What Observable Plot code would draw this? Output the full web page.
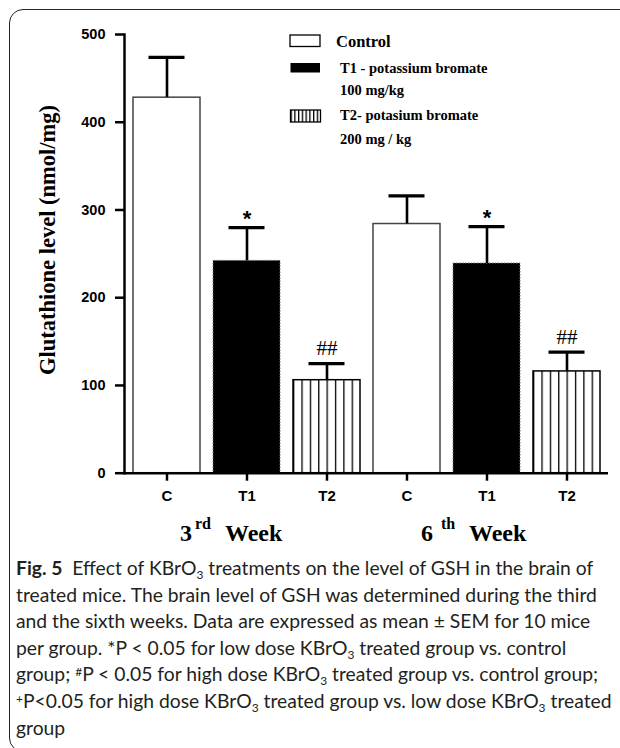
<!DOCTYPE html>
<html>
<head>
<meta charset="utf-8">
<script src="https://cdn.jsdelivr.net/npm/d3@7"></script>
<script src="https://cdn.jsdelivr.net/npm/@observablehq/plot@0.6"></script>
<style>
  html, body { margin: 0; padding: 0; background: #fff; }
  #wrap { position: relative; width: 620px; height: 748px; overflow: hidden; background: #fff; }
  #frame { position: absolute; left: 9px; top: 9px; width: 660px; height: 741px; border: 1.3px solid #222; border-radius: 14px; }
  #chart { position: absolute; left: 0; top: 0; }
  #overlay { position: absolute; left: 0; top: 0; }
  #caption { position: absolute; left: 16px; top: 555px; color: #231f20; font-family: Lato, "Open Sans", sans-serif; font-size: 18px; line-height: 26.6px; white-space: nowrap; }
  #caption b { font-weight: 700; }
  #caption sub { font-size: 0.62em; vertical-align: -0.3em; line-height: 0; }
  #caption sup { font-size: 0.62em; vertical-align: 0.45em; line-height: 0; }
  #caption span.line { display: inline-block; }
</style>
</head>
<body>
<svg width="0" height="0" style="position:absolute">
  <defs>
    <pattern id="stripes" patternUnits="objectBoundingBox" width="0.125" height="1">
      <rect x="0" y="0" width="1.3" height="800" fill="#000"></rect>
    </pattern>
  </defs>
</svg>
<div id="wrap">
  <div id="frame"></div>
  <div id="chart"></div>
  <svg id="overlay" width="620" height="748"></svg>
  <div id="caption"></div>
</div>
<script>
// ---- data ----
const weeks = ["3rd", "3rd", "3rd", "6th", "6th", "6th"];
const groups = ["C", "T1", "T2", "C", "T1", "T2"];
const means = [428, 242, 106, 284, 239, 116];
const sems = [46, 38, 19, 32, 42, 22];
const signif = ["", "*", "##", "", "*", "##"];
const yTicks = [0, 100, 200, 300, 400, 500];
const legendItems = [
  ["Control"],
  ["T1 - potassium bromate", "100 mg/kg"],
  ["T2- potasium bromate", "200 mg / kg"]
];
const weekLabels = [["3", "rd", "Week"], ["6", "th", "Week"]];
const yTitle = "Glutathione level (nmol/mg)";
const captionLines = [
  "<b>Fig. 5</b>&nbsp; Effect of KBrO<sub>3</sub> treatments on the level of GSH in the brain of",
  "treated mice. The brain level of GSH was determined during the third",
  "and the sixth weeks. Data are expressed as mean \u00b1 SEM for 10 mice",
  "per group. *P &lt; 0.05 for low dose KBrO<sub>3</sub> treated group vs. control",
  "group; <sup>#</sup>P &lt; 0.05 for high dose KBrO<sub>3</sub> treated group vs. control group;",
  "<sup>+</sup>P&lt;0.05 for high dose KBrO<sub>3</sub> treated group vs. low dose KBrO<sub>3</sub> treated",
  "group"
];

const data = groups.map((g, i) => ({
  key: weeks[i] + "-" + g,
  group: g,
  mean: means[i],
  top: means[i] + sems[i],
  mark: signif[i]
}));

const sans = "'Liberation Sans', Arial, sans-serif";
const serif = "'Liberation Serif', 'Times New Roman', serif";

const chart = Plot.plot({
  width: 620,
  height: 548,
  marginLeft: 124,
  marginRight: 12,
  marginTop: 34,
  marginBottom: 75.3,
  style: { background: "transparent", color: "#000", fontFamily: sans },
  x: { domain: data.map(d => d.key), paddingInner: 0.1625, paddingOuter: 0.1, label: null },
  y: { domain: [0, 500], label: null },
  marks: [
    Plot.barY(data.filter(d => d.group === "C"), { x: "key", y: "mean", fill: "#fff", stroke: "#444", strokeWidth: 1.5 }),
    Plot.barY(data.filter(d => d.group === "T1"), { x: "key", y: "mean", fill: "#000", stroke: "#777", strokeWidth: 1, strokeDasharray: "1.5,1.5" }),
    Plot.barY(data.filter(d => d.group === "T2"), { x: "key", y: "mean", fill: "url(#stripes)", stroke: "#000", strokeWidth: 1.5 }),
    Plot.ruleX(data, { x: "key", y1: "mean", y2: "top", stroke: "#000", strokeWidth: 2.6 }),
    Plot.tickY(data, { x: "key", y: "top", stroke: "#000", strokeWidth: 3.2, insetLeft: 15.5, insetRight: 15.5 }),
    Plot.text(data.filter(d => d.mark === "*"), { x: "key", y: "top", text: "mark", dy: -9, fontSize: 22, fontWeight: "bold", fontFamily: sans, fill: "#000" }),
    Plot.text(data.filter(d => d.mark === "##"), { x: "key", y: "top", text: "mark", dy: -15, fontSize: 21, fontFamily: serif, fill: "#000" }),
    Plot.axisY({ ticks: yTicks, tickSize: 9, tickPadding: 10, strokeWidth: 2.5, fontSize: 14.5, fontWeight: "bold", fontFamily: sans, label: null }),
    Plot.axisX({ tickSize: 8, tickPadding: 9, strokeWidth: 2.5, fontSize: 15, fontWeight: "bold", fontFamily: sans, label: null, tickFormat: k => k.split("-")[1] }),
    Plot.frame({ anchor: "left", strokeWidth: 2.5, stroke: "#000" }),
    Plot.ruleY([0], { strokeWidth: 2.5, stroke: "#000" })
  ]
});
document.getElementById("chart").appendChild(chart);

// ---- overlay: legend, y title, week labels ----
const ov = d3.select("#overlay");
ov.append("rect").attr("x", 290).attr("y", 35).attr("width", 30).attr("height", 11.5)
  .attr("fill", "#fff").attr("stroke", "#000").attr("stroke-width", 1.3);
ov.append("rect").attr("x", 290.5).attr("y", 63).attr("width", 29.5).attr("height", 9.5).attr("fill", "#000");
ov.append("rect").attr("x", 290.5).attr("y", 110).attr("width", 30).attr("height", 12)
  .attr("fill", "url(#stripes)").attr("stroke", "#000").attr("stroke-width", 1.3);

const legendPos = [
  { x: 336, ys: [46.5], size: 16.5 },
  { x: 340, ys: [73, 95], size: 14.5 },
  { x: 340, ys: [120, 144], size: 14.5 }
];
legendItems.forEach((lines, i) => {
  lines.forEach((t, j) => {
    ov.append("text").attr("x", legendPos[i].x).attr("y", legendPos[i].ys[j])
      .attr("font-family", serif).attr("font-weight", "bold").attr("font-size", legendPos[i].size)
      .attr("fill", "#000").text(t);
  });
});

ov.append("text").attr("transform", "translate(55,240) rotate(-90)").attr("text-anchor", "middle")
  .attr("font-family", serif).attr("font-weight", "bold").attr("font-size", 22.5).attr("fill", "#000").text(yTitle);

const weekPos = [[180, 195, 225], [421, 441, 469]];
weekLabels.forEach((w, i) => {
  const t = ov.append("text").attr("y", 541)
    .attr("font-family", serif).attr("font-weight", "bold").attr("font-size", 24).attr("fill", "#000");
  t.append("tspan").attr("x", weekPos[i][0]).text(w[0]);
  t.append("tspan").attr("x", weekPos[i][1]).attr("y", 529).attr("font-size", 16).text(w[1]);
  t.append("tspan").attr("x", weekPos[i][2]).attr("y", 541).text(w[2]);
});

// caption, fitted so its longest line spans the reference width
const cap = document.getElementById("caption");
cap.innerHTML = captionLines.map(l => '<span class="line">' + l + '</span>').join("<br>");
const target = 596;
const widest = Math.max(...Array.from(cap.querySelectorAll("span.line")).map(s => s.getBoundingClientRect().width));
cap.style.fontSize = (18 * target / widest).toFixed(2) + "px";
</script>
</body>
</html>
